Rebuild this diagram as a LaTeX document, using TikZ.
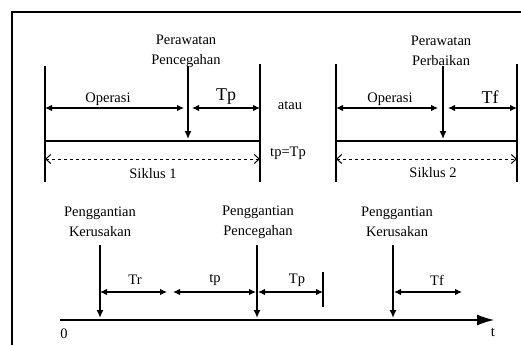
\documentclass[tikz,border=0pt]{standalone}
\usepackage{fontspec}
\setmainfont{Liberation Serif}
\usetikzlibrary{arrows.meta}
\tikzset{
  lbl/.style={inner sep=0pt, align=center, font=\fontsize{14.5}{20}\selectfont},
  biglbl/.style={inner sep=0pt, font=\fontsize{18}{20}\selectfont},
  bar/.style={line width=1.4pt},
  span/.style={line width=1.1pt, {Latex[length=7pt,width=6.5pt]}-{Latex[length=7pt,width=6.5pt]}},
  down/.style={line width=1.4pt, -{Latex[length=8pt,width=7pt]}},
  cyc/.style={line width=1pt, dashed, {Straight Barb[length=5pt,width=9pt]}-{Straight Barb[length=5pt,width=9pt]}}
}
\begin{document}
\begin{tikzpicture}[x=1pt,y=-1pt]
\useasboundingbox (0,0) rectangle (521,345);
% frame
\draw[line width=2pt] (12,345) -- (12,12) -- (521,12);

% ---------- cycle 1 ----------
\coordinate (L1t) at (45,66); \coordinate (L1b) at (45,182);
\coordinate (R1t) at (260,64); \coordinate (R1b) at (260,182);
\coordinate (V1t) at (188,66); \coordinate (V1b) at (188,139);
\coordinate (M1a) at (45,141); \coordinate (M1b) at (260,141);
\coordinate (O1a) at (45,108); \coordinate (O1b) at (184,108);
\coordinate (P1a) at (192,108); \coordinate (P1b) at (260,108);
\coordinate (S1a) at (45,159); \coordinate (S1b) at (260,159);
\draw[bar] (L1t) -- (L1b);
\draw[bar] (R1t) -- (R1b);
\draw[bar] (M1a) -- (M1b);
\draw[down] (V1t) -- (V1b);
\draw[span] (O1a) -- (O1b);
\draw[span] (P1a) -- (P1b);
\draw[cyc] (S1a) -- (S1b);
\node[lbl] (pp1) at (186,51) {Perawatan\\Pencegahan};
\node[lbl] (op1) at (108,99) {Operasi};
\node[biglbl] (tp1) at (226,97) {Tp};
\node[lbl] (sk1) at (153,174) {Siklus 1};
\node[lbl] (atau) at (290,105) {atau};
\node[lbl] (eq) at (288,153) {tp=Tp};

% ---------- cycle 2 ----------
\coordinate (L2t) at (336,64); \coordinate (L2b) at (336,182);
\coordinate (R2t) at (517,64); \coordinate (R2b) at (517,182);
\coordinate (V2t) at (443,66); \coordinate (V2b) at (443,139);
\coordinate (M2a) at (336,141); \coordinate (M2b) at (517,141);
\coordinate (O2a) at (336,108); \coordinate (O2b) at (438,108);
\coordinate (F2a) at (448,108); \coordinate (F2b) at (517,108);
\coordinate (S2a) at (336,159); \coordinate (S2b) at (517,159);
\draw[bar] (L2t) -- (L2b);
\draw[bar] (R2t) -- (R2b);
\draw[bar] (M2a) -- (M2b);
\draw[down] (V2t) -- (V2b);
\draw[span] (O2a) -- (O2b);
\draw[span] (F2a) -- (F2b);
\draw[cyc] (S2a) -- (S2b);
\node[lbl] (pb2) at (441,51) {Perawatan\\Perbaikan};
\node[lbl] (op2) at (390,99) {Operasi};
\node[biglbl] (tf2) at (490,97) {Tf};
\node[lbl] (sk2) at (433,173) {Siklus 2};

% ---------- time axis ----------
\coordinate (A0) at (60,320); \coordinate (A1) at (494,320);
\draw[line width=1.4pt, -{Latex[length=17pt,width=11pt]}] (A0) -- (A1);
\node[lbl] (zero) at (64,334) {0};
\node[lbl] (tt) at (493,332) {t};

\coordinate (K1t) at (100,245); \coordinate (K1b) at (100,318);
\coordinate (C1t) at (257,245); \coordinate (C1b) at (257,318);
\coordinate (K2t) at (393,245); \coordinate (K2b) at (393,318);
\draw[line width=1.6pt, -{Latex[length=8pt,width=7pt]}] (K1t) -- (K1b);
\draw[line width=2.3pt, -{Latex[length=8pt,width=7pt]}] (C1t) -- (C1b);
\draw[line width=2.3pt, -{Latex[length=8pt,width=7pt]}] (K2t) -- (K2b);
\coordinate (TKt) at (323,272); \coordinate (TKb) at (323,307);
\draw[line width=1.6pt] (TKt) -- (TKb);

\coordinate (Tr1) at (100,292); \coordinate (Tr2) at (167,292);
\coordinate (tp1) at (173,292); \coordinate (tp2) at (256,292);
\coordinate (Tp1) at (258,292); \coordinate (Tp2) at (323,292);
\coordinate (Tf1) at (394,292); \coordinate (Tf2) at (462,292);
\draw[span] (Tr1) -- (Tr2);
\draw[span] (tp1) -- (tp2);
\draw[span] (Tp1) -- (Tp2);
\draw[span] (Tf1) -- (Tf2);
\node[lbl] (lTr) at (135,280) {Tr};
\node[lbl] (ltp) at (215,280) {tp};
\node[lbl] (lTp) at (297,280) {Tp};
\node[lbl] (lTf) at (437,280) {Tf};

\node[lbl] (gk1) at (100,222) {Penggantian\\Kerusakan};
\node[lbl] (gp) at (258,222) {Penggantian\\Pencegahan};
\node[lbl] (gk2) at (397,222) {Penggantian\\Kerusakan};
\end{tikzpicture}
\end{document}
